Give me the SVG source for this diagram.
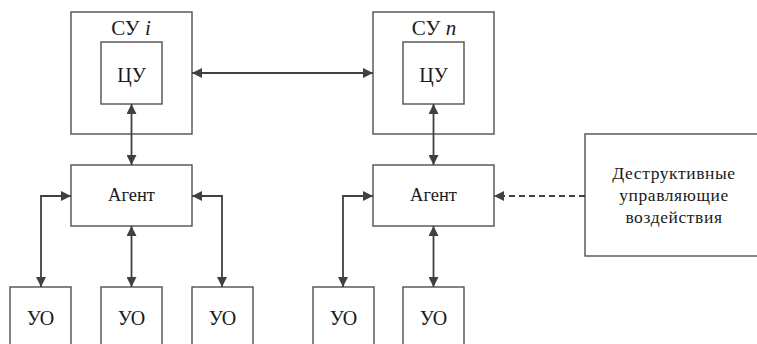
<svg xmlns="http://www.w3.org/2000/svg" width="757" height="344" viewBox="0 0 757 344">
<defs>
<marker id="ah" markerWidth="10" markerHeight="10" refX="10" refY="5" orient="auto-start-reverse" markerUnits="userSpaceOnUse">
<path d="M0,0 L10,5 L0,10 Z" fill="#404040"/>
</marker>
</defs>
<rect width="757" height="344" fill="#fff"/>
<g fill="#fff" stroke="#505050" stroke-width="1.4">
<g id="su_i"><rect x="71" y="12" width="121" height="122"/></g>
<g id="cu_i"><rect x="101" y="42" width="61" height="62"/></g>
<g id="su_n"><rect x="373" y="12" width="121" height="122"/></g>
<g id="cu_n"><rect x="403" y="42" width="61" height="62"/></g>
<g id="agent_i"><rect x="71" y="165" width="121" height="61"/></g>
<g id="agent_n"><rect x="373" y="165" width="121" height="61"/></g>
<g id="destr"><rect x="585" y="134" width="190" height="122"/></g>
<g id="uo1"><rect x="10" y="287" width="61" height="70"/></g>
<g id="uo2"><rect x="101" y="287" width="61" height="70"/></g>
<g id="uo3"><rect x="192" y="287" width="61" height="70"/></g>
<g id="uo4"><rect x="313" y="287" width="61" height="70"/></g>
<g id="uo5"><rect x="403" y="287" width="61" height="70"/></g>
</g>
<g id="labels" fill="#1a1a1a" text-anchor="middle" font-family="Liberation Serif, Times New Roman, DejaVu Serif, serif">
<text x="131" y="35" font-size="21">СУ <tspan font-style="italic">i</tspan></text>
<text x="131.5" y="82" font-size="20">ЦУ</text>
<text x="434" y="35" font-size="21">СУ <tspan font-style="italic">n</tspan></text>
<text x="433.5" y="82" font-size="20">ЦУ</text>
<text x="131.5" y="201" font-size="18.5">Агент</text>
<text x="433.5" y="201" font-size="18.5">Агент</text>
<text x="674" y="179" font-size="17.5" letter-spacing="0.6">Деструктивные</text>
<text x="674" y="201" font-size="17.5" letter-spacing="0.6">управляющие</text>
<text x="674" y="223" font-size="17.5" letter-spacing="0.6">воздействия</text>
<text x="40.5" y="325" font-size="20">УО</text>
<text x="131.5" y="325" font-size="20">УО</text>
<text x="222.5" y="325" font-size="20">УО</text>
<text x="343.5" y="325" font-size="20">УО</text>
<text x="433.5" y="325" font-size="20">УО</text>
</g>
<g id="connectors" fill="none" stroke="#404040" stroke-width="1.8">
<path d="M192,73 H373" marker-start="url(#ah)" marker-end="url(#ah)"/>
<path d="M131.5,165 V104" marker-start="url(#ah)" marker-end="url(#ah)"/>
<path d="M433.5,165 V104" marker-start="url(#ah)" marker-end="url(#ah)"/>
<path d="M71,196 H41 V287" marker-start="url(#ah)" marker-end="url(#ah)"/>
<path d="M131.5,226 V287" marker-start="url(#ah)" marker-end="url(#ah)"/>
<path d="M192,196 H222 V287" marker-start="url(#ah)" marker-end="url(#ah)"/>
<path d="M373,196 H343 V287" marker-start="url(#ah)" marker-end="url(#ah)"/>
<path d="M433.5,226 V287" marker-start="url(#ah)" marker-end="url(#ah)"/>
<path d="M585,196 H494" stroke-dasharray="6 4" marker-end="url(#ah)"/>
</g>
</svg>
